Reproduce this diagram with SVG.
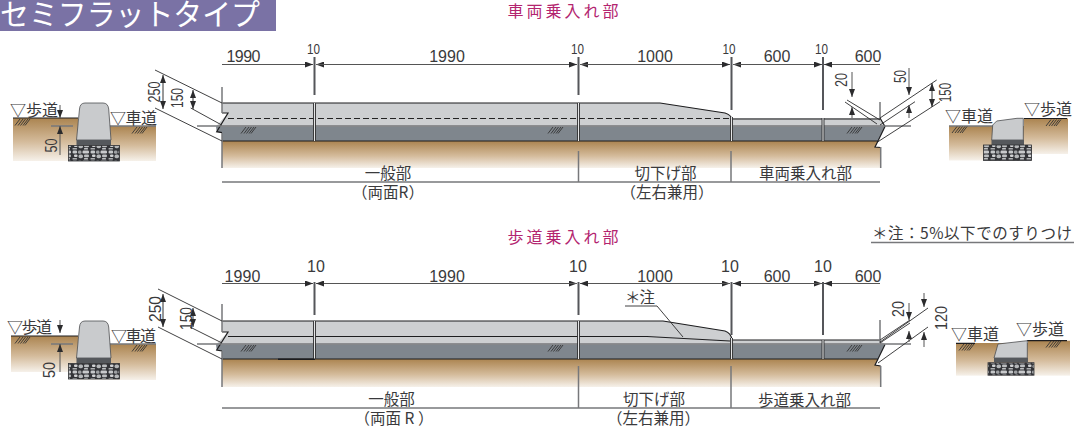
<svg xmlns="http://www.w3.org/2000/svg" width="1080" height="428" viewBox="0 0 1080 428">
<style>
text{font-family:"Liberation Sans","Noto Sans CJK JP",sans-serif;fill:#3a3a3c}
.jp{font-family:"Noto Sans CJK JP","Liberation Sans",sans-serif;font-size:15.5px;font-weight:400}
.lb{font-family:"Noto Sans CJK JP","Liberation Sans",sans-serif;font-size:16px;font-weight:400}
.head{font-family:"Noto Sans CJK JP",sans-serif;font-size:16px;fill:#b3246f;text-anchor:middle}
.n{font-size:16px}
.r{font-size:16.500px;text-anchor:middle}
.m{text-anchor:middle}
.ln{fill:none;stroke:#2b2b2d;stroke-width:.9}
.gl{fill:none;stroke:#77787b;stroke-width:1.5}
.tk{fill:none;stroke:#55565a;stroke-width:2}
.bk{fill:none;stroke:#1d1d1f;stroke-width:1.2}
.dim{fill:none;stroke:#555;stroke-width:1;marker-end:url(#a)}
.dm2{fill:none;stroke:#333;stroke-width:1;marker-start:url(#as);marker-end:url(#a)}
.lt{fill:#cdcfd1;stroke:none}
.dk{fill:#7f868d;stroke:none}
.sl{fill:url(#soil)}
.st{fill:url(#stone);stroke:#2f3033;stroke-width:.8}
.bs{fill:#55585c}
.h{fill:none;stroke:#333;stroke-width:.9}
.jt{fill:none;stroke:#2b2b2d;stroke-width:.9}
.cv{fill:#c9cbcd;stroke:#4d4e50;stroke-width:.8}
</style>
<defs>
<linearGradient id="soil" x1="0" y1="0" x2="0" y2="1"><stop offset="0" stop-color="#ab8450"/><stop offset=".55" stop-color="#d4bb9b"/><stop offset="1" stop-color="#f6f1ea"/></linearGradient>
<marker id="a" viewBox="0 0 8 6" refX="8" refY="3" markerWidth="8" markerHeight="6" markerUnits="userSpaceOnUse" orient="auto"><path d="M0 0L8 3L0 6Z" fill="#2b2b2d"/></marker>
<marker id="as" viewBox="0 0 8 6" refX="0" refY="3" markerWidth="8" markerHeight="6" markerUnits="userSpaceOnUse" orient="auto"><path d="M8 0L0 3L8 6Z" fill="#2b2b2d"/></marker>
<pattern id="stone" width="18" height="10" patternUnits="userSpaceOnUse"><rect width="18" height="10" fill="#333438"/><rect x=".6" y=".6" width="4.500" height="2.800" rx="1.200" fill="#c5c7c9"/><rect x="6" y=".5" width="3.500" height="3.300" rx="1.400" fill="#9fa1a4"/><rect x="10.500" y=".6" width="6.500" height="2.900" rx="1.200" fill="#c9cacc"/><rect x="2" y="4.500" width="3.500" height="2.500" rx="1.100" fill="#d2d3d5"/><rect x="6.500" y="4.600" width="4.500" height="3.600" rx="1.700" fill="#b5b7b9"/><rect x="12" y="4.500" width="5" height="2.700" rx="1.200" fill="#bcbec0"/><rect x=".5" y="8" width="4.500" height="1.500" rx=".6" fill="#aeb0b2"/><rect x="12" y="8" width="4" height="1.500" rx=".6" fill="#c0c2c4"/></pattern>
<g id="hatch"><path class="h" d="M0 6.5L5 0M3 6.5L8 0M5.5 6.5L10.5 0M8 6.5L13 0M10 6.5L15 0"/></g>
</defs>

<g id="title"><rect width="276" height="31" fill="#7a72a5"/><text x="0" y="25" font-size="30" textLength="260" lengthAdjust="spacingAndGlyphs" style="font-family:'Noto Sans CJK JP',sans-serif;fill:#fff;font-weight:400">セミフラットタイプ</text></g>

<g id="head-top"><text class="head" x="563" y="17" textLength="111">車両乗入れ部</text></g>
<g id="head-bottom"><text class="head" x="563" y="243" textLength="111">歩道乗入れ部</text></g>

<g id="section-a-left">
<rect class="sl" x="13" y="118" width="65" height="43"/><rect class="sl" x="78" y="126" width="78" height="35"/>
<path class="bk" d="M13 118H78"/><path class="gl" d="M108 126H156M51 126H73"/>
<path class="cv" d="M76.500 140L79.500 109Q80 103 85 103H103Q108 103 108.700 109L111 140Z"/>
<rect class="bs" x="76.500" y="140" width="34.500" height="5.500"/><rect class="st" x="68.500" y="145.500" width="51" height="15.500"/>
<use href="#hatch" x="15" y="119"/><use href="#hatch" x="132" y="127"/>
<text class="lb" x="10" y="116">▽歩道</text><text class="lb" x="110" y="124" textLength="47">▽車道</text>
<path class="dim" d="M60 105V118"/><path class="dim" d="M60 155V126"/>
<text class="r" textLength="14" lengthAdjust="spacingAndGlyphs" transform="translate(56.500 145.500) rotate(-90)">50</text>
</g>

<g id="slab-a">
<path class="sl" d="M222 141H878L875 147L880.700 147.500V168H222Z"/>
<path class="lt" d="M222 103H660L725 113Q731 115 731 118H823H880L885 126.500H216L228 113H222Z"/>
<path class="dk" d="M216 126.500H885L878 141H222V132.700L216.700 131.700Z"/>
<path class="bk" d="M222 103H660L725 113Q731 115 732 119H880M222 113H228L216.700 131.700L222 132.700M222 141H878L885 126.500L880 118M878 141L875 147L880.700 147.500" stroke-width="1"/>
<path d="M228 118.500H730" fill="none" stroke="#222" stroke-width="1" stroke-dasharray="6 3"/>
<path class="gl" d="M197 126H911M222 87V113M222 133V168M880.700 147V168M880 102V118M222 182H880"/>
<path d="M314.500 103V141M578.500 103V141M731.500 117V141M823 118V141" fill="none" stroke="#e4e5e6" stroke-width="2"/>
<path class="jt" d="M313.500 103V141M315.500 103V141M577.500 103V141M579.500 103V141M730.500 117V141M732.500 117V141M822 118V141M824 118V141"/>
<use href="#hatch" x="241" y="127"/><use href="#hatch" x="548" y="127"/><use href="#hatch" x="847" y="127"/>
</g>

<g id="labels-a">
<text class="jp m" x="388" y="179">一般部</text><text class="jp m" x="388" y="198">（両面R）</text>
<text class="jp m" x="665.500" y="179">切下げ部</text><text class="jp m" x="667" y="198">（左右兼用）</text>
<text class="jp m" x="805.500" y="179">車両乗入れ部</text>
<text class="n" x="226.500" y="61.500" textLength="34">1990</text><text class="n m" x="447" y="61.500">1990</text><text class="n m" x="655" y="61.500">1000</text><text class="n m" x="777" y="61.500">600</text><text class="n m" x="868" y="61.500">600</text>
<g font-size="15"><text x="307" y="54" textLength="13" lengthAdjust="spacingAndGlyphs">10</text><text x="571" y="54" textLength="13" lengthAdjust="spacingAndGlyphs">10</text><text x="722.500" y="54" textLength="13" lengthAdjust="spacingAndGlyphs">10</text><text x="815" y="54" textLength="13" lengthAdjust="spacingAndGlyphs">10</text></g>
<text class="r" textLength="21" lengthAdjust="spacingAndGlyphs" transform="translate(160 92) rotate(-90)">250</text><text class="r" textLength="20" lengthAdjust="spacingAndGlyphs" transform="translate(183 98) rotate(-90)">150</text>
<text class="r" textLength="14" lengthAdjust="spacingAndGlyphs" transform="translate(847 80) rotate(-90)">20</text><text class="r" textLength="13" lengthAdjust="spacingAndGlyphs" transform="translate(906 76.500) rotate(-90)">50</text><text class="r" textLength="19" lengthAdjust="spacingAndGlyphs" transform="translate(951 92.500) rotate(-90)">150</text>
</g>

<g id="section-a-right">
<rect class="sl" x="949" y="126" width="75" height="34.500"/><rect class="sl" x="1024" y="118.500" width="44" height="35.500"/>
<path class="gl" d="M949 126H993"/><path class="bk" d="M1024 118.500H1067"/>
<path class="cv" d="M991.700 140L992.700 125L996.700 121L1017 118.300H1023.300V140Z"/>
<rect class="bs" x="991.500" y="140" width="32.500" height="5"/><rect class="st" x="983.500" y="145" width="48" height="15.500"/>
<use href="#hatch" x="952" y="126.500"/><use href="#hatch" x="1046" y="119.500"/>
<text class="lb" x="945" y="122">▽車道</text><text class="lb" x="1024" y="115">▽歩道</text>
</g>

<g id="connectors-a">
<path class="ln" d="M155 70L222 103M155 108L222 141M190.700 108L221.700 125"/>
<path class="dm2" d="M163 75V109"/><path class="dm2" d="M193 90V109"/>
<path class="tk" d="M314.500 57V95M578.500 57V95M731.500 57V110M823 57V110"/>
<path class="gl" d="M578.500 151V182M731 151V182" stroke-width="1"/>
<path class="dim" d="M222 64.500H313"/><path class="dim" d="M577 64.500H316"/><path class="dim" d="M316 64.500H577"/><path class="dim" d="M730 64.500H580"/><path class="dim" d="M580 64.500H730"/><path class="dim" d="M822 64.500H733"/><path class="dim" d="M733 64.500H822"/><path class="dim" d="M880 64.500H824"/>
<path class="ln" d="M847 100L880 120M845 102L877 124M880 118L936.700 80M880 125L915 101.700M878 141.700L940 101.700"/>
<path class="dim" d="M852 72V97"/><path class="dim" d="M852 118V107"/>
<path class="dim" d="M909 68V95"/><path class="dim" d="M909 118V105"/>
<path class="dm2" d="M932 83V107"/>
</g>

<g id="section-b-left">
<rect class="sl" x="11" y="336" width="67" height="36"/><rect class="sl" x="78" y="344" width="78" height="36"/>
<path class="bk" d="M11 336H78"/><path class="gl" d="M108 344H156M51 344H73"/>
<path class="cv" d="M76.500 358L79.500 327Q80 321 85 321H103Q108 321 108.700 327L111 358Z"/>
<rect class="bs" x="76.500" y="358" width="34.500" height="5.500"/><rect class="st" x="68.500" y="363.500" width="51" height="15.500"/>
<use href="#hatch" x="15" y="337"/><use href="#hatch" x="132" y="345"/>
<text class="lb" x="7" y="333" textLength="45">▽歩道</text><text class="lb" x="111" y="342" textLength="45">▽車道</text>
<path class="dim" d="M60 320V333"/><path class="dim" d="M60 372V344"/>
<text class="r" textLength="16" lengthAdjust="spacingAndGlyphs" transform="translate(55 370) rotate(-90)">50</text>
</g>

<g id="slab-b">
<path class="sl" d="M222 359H878L875 365L880.700 366V387H222Z"/>
<path class="lt" d="M222 321H663L725 331Q731 333 731 340H880L885 344.500H216L228 332H222Z"/>
<path class="dk" d="M216 344.500H885L878 359H222V351L216.700 350Z"/>
<path class="bk" d="M222 321H663L725 331Q731 333 732 340H880M222 332H228L216.700 350L222 351M222 359H878L885 344.500M878 359L875 365L880.700 366" stroke-width="1"/>
<path class="bk" d="M228 336.500H647L730 341"/>
<path class="gl" d="M197 344H911M222 304V332M222 351V387M880.700 366V387M880 320V343M222 408H880"/>
<path d="M314.500 321V359M578.500 321V359M731.500 338V359M823 340V359" fill="none" stroke="#e4e5e6" stroke-width="2"/>
<path class="jt" d="M313.500 321V359M315.500 321V359M577.500 321V359M579.500 321V359M730.500 338V359M732.500 338V359M822 340V359M824 340V359"/>
<path d="M278 359.300H315" stroke="#1d1d1f" stroke-width="1.500" fill="none"/>
<use href="#hatch" x="241" y="345"/><use href="#hatch" x="548" y="345"/><use href="#hatch" x="847" y="345"/>
</g>

<g id="labels-b">
<text class="jp m" x="391.500" y="405">一般部</text><text class="jp m" x="394" y="424">（両面 R ）</text>
<text class="jp m" x="654" y="405">切下げ部</text><text class="jp m" x="653.500" y="424">（左右兼用）</text>
<text class="jp m" x="804.500" y="405.500">歩道乗入れ部</text>
<text class="n" x="224.500" y="281.500" textLength="36">1990</text><text class="n m" x="447" y="281.500">1990</text><text class="n m" x="655" y="281.500">1000</text><text class="n m" x="777" y="281.500">600</text><text class="n m" x="868" y="281.500">600</text>
<text class="n m" x="316" y="272">10</text><text class="n m" x="578" y="272">10</text><text class="n m" x="730" y="272">10</text><text class="n m" x="823" y="272">10</text>
<text class="r" textLength="26" lengthAdjust="spacingAndGlyphs" transform="translate(161 309) rotate(-90)">250</text><text class="r" textLength="23" lengthAdjust="spacingAndGlyphs" transform="translate(192 318.500) rotate(-90)">150</text>
<text class="r" textLength="16" lengthAdjust="spacingAndGlyphs" transform="translate(904 309) rotate(-90)">20</text><text class="r" textLength="24" lengthAdjust="spacingAndGlyphs" transform="translate(947 318) rotate(-90)">120</text>
<text class="jp" x="625" y="303" textLength="30">＊注</text>
<text class="jp" x="872" y="239" textLength="200">＊注：5%以下でのすりつけ</text>
<path class="gl" d="M871 242.500H1074" stroke-width="1"/>
</g>

<g id="section-b-right">
<rect class="sl" x="956" y="343" width="72" height="32.700"/><rect class="sl" x="1028" y="340.700" width="42" height="35"/>
<path class="bk" d="M956 343.300H975M1027 340.700H1067"/>
<path class="cv" d="M994 358L998 344L1027.300 340.700V358Z"/>
<rect class="bs" x="994" y="358" width="34" height="4"/><rect class="st" x="988" y="362.700" width="46" height="12.500"/>
<use href="#hatch" x="959" y="344"/><use href="#hatch" x="1046" y="341"/>
<text class="lb" x="951" y="340">▽車道</text><text class="lb" x="1016" y="335">▽歩道</text>
</g>

<g id="connectors-b">
<path class="ln" d="M158 289L222 321M158 327L222 359M190 327L222 343"/>
<path class="dm2" d="M163 294V327"/><path class="dm2" d="M193 308V327"/>
<path class="tk" d="M314.500 282V315M578.500 282V315M731.500 282V335M823 282V335"/>
<path class="gl" d="M578.500 366V408M731 366V408" stroke-width="1"/>
<path class="dim" d="M222 283.500H313"/><path class="dim" d="M316 283.500H577"/><path class="dim" d="M577 283.500H316"/><path class="dim" d="M580 283.500H730"/><path class="dim" d="M730 283.500H580"/><path class="dim" d="M733 283.500H822"/><path class="dim" d="M822 283.500H733"/><path class="dim" d="M880 283.500H824"/>
<path class="ln" d="M625 306H657L683 337M880 340L910 320M880 343L910 323M878 363L928 327M880 342L928 308"/>
<path class="dim" d="M909 303V320"/><path class="dim" d="M909 342V331"/>
<path class="dim" d="M924 293V307"/><path class="dim" d="M924 347V332"/>
</g>
</svg>
